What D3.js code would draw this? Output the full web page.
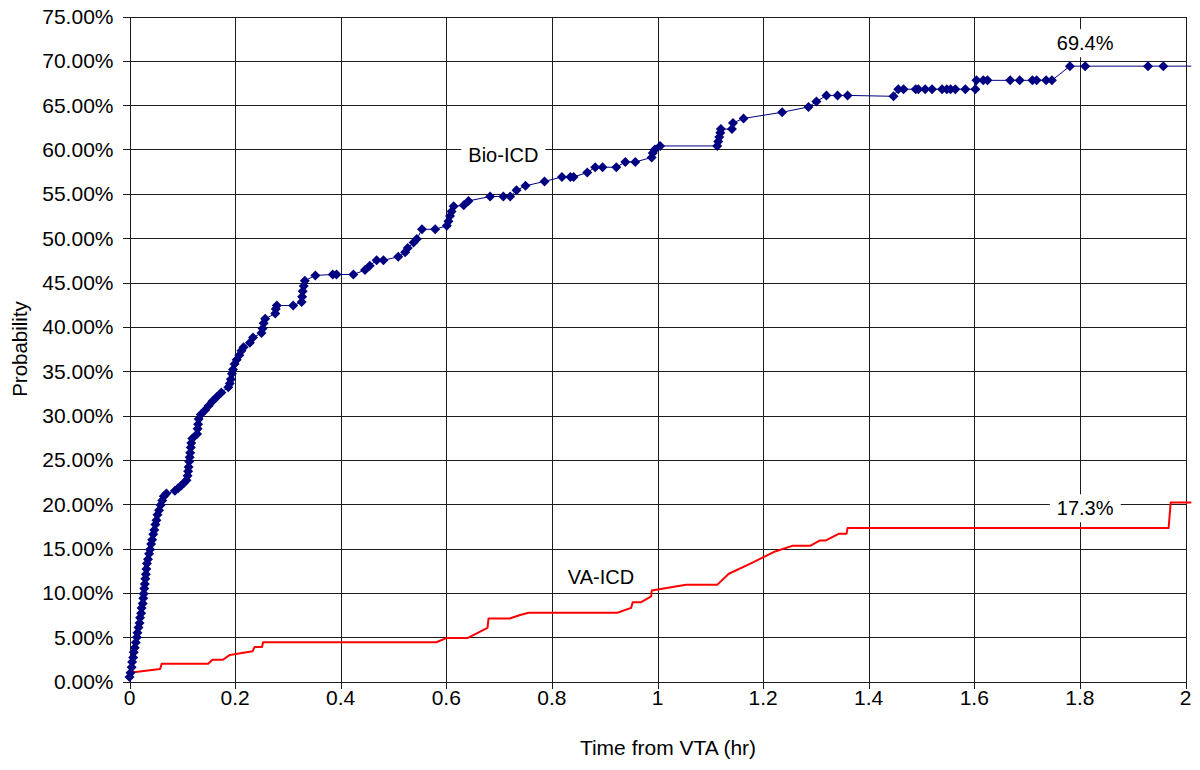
<!DOCTYPE html>
<html>
<head>
<meta charset="utf-8">
<script src="https://cdn.jsdelivr.net/npm/d3@7/dist/d3.min.js"></script>
<style>
  html, body { margin: 0; padding: 0; background: #fff; }
  svg { display: block; font-family: "Liberation Sans", Arial, sans-serif; }
</style>
</head>
<body>
<svg id="chart" width="1200" height="770"></svg>
<script>
// Time (hr) and cumulative probability (%) for the Bio-ICD group
const bioTime = [
  0.000, 0.002, 0.004, 0.005, 0.007, 0.008, 0.010, 0.012, 0.014, 0.015,
  0.017, 0.019, 0.020, 0.022, 0.023, 0.025, 0.026, 0.027, 0.028, 0.029,
  0.030, 0.031, 0.032, 0.033, 0.035, 0.037, 0.039, 0.041, 0.043, 0.045,
  0.047, 0.049, 0.051, 0.053, 0.056, 0.059, 0.062, 0.065, 0.070,
  0.086, 0.092, 0.098, 0.103, 0.108,
  0.110, 0.111, 0.112, 0.113, 0.114, 0.115, 0.116, 0.117, 0.119,
  0.128, 0.129, 0.130, 0.131, 0.135,
  0.143, 0.150, 0.157, 0.165, 0.174, 0.187, 0.190, 0.192, 0.194, 0.196, 0.199,
  0.203, 0.208, 0.212, 0.216, 0.228, 0.234,
  0.250, 0.252, 0.254, 0.257, 0.276, 0.277, 0.279,
  0.310, 0.326, 0.327, 0.328, 0.330, 0.332,
  0.352, 0.385, 0.392, 0.424, 0.446, 0.455, 0.468, 0.481, 0.509, 0.522,
  0.527, 0.538, 0.544, 0.554, 0.579, 0.601, 0.604, 0.607, 0.610, 0.614,
  0.633, 0.642, 0.683, 0.708, 0.721, 0.733, 0.750, 0.786, 0.819, 0.835,
  0.841, 0.867, 0.882, 0.896, 0.922, 0.939, 0.958, 0.989, 0.991, 0.995,
  1.005, 1.113, 1.115, 1.117, 1.119, 1.120, 1.141, 1.143, 1.163, 1.236,
  1.286, 1.301, 1.320, 1.341, 1.360, 1.447, 1.456, 1.466, 1.489, 1.494,
  1.507, 1.520, 1.539, 1.548, 1.555, 1.564, 1.583, 1.602, 1.604, 1.617,
  1.625, 1.668, 1.686, 1.710, 1.718, 1.736, 1.747, 1.781, 1.810, 1.929,
  1.958, 2.011
];
const bioProb = [
  0.5, 1.0, 1.6, 2.2, 2.7, 3.3, 3.8, 4.4, 5.0, 5.5,
  6.1, 6.6, 7.2, 7.7, 8.3, 8.8, 9.4, 9.9, 10.5, 11.0,
  11.6, 12.1, 12.7, 13.3, 13.8, 14.4, 14.9, 15.5, 16.0, 16.6,
  17.1, 17.7, 18.2, 18.8, 19.3, 19.9, 20.4, 20.9, 21.2,
  21.5, 21.8, 22.1, 22.4, 22.7,
  23.2, 23.7, 24.2, 24.8, 25.3, 25.8, 26.4, 26.9, 27.4,
  27.9, 28.5, 29.0, 29.6, 30.1,
  30.6, 31.1, 31.6, 32.1, 32.6, 33.2, 33.6, 34.1, 34.7, 35.2, 35.8,
  36.3, 36.8, 37.3, 37.7, 38.2, 38.8,
  39.3, 39.8, 40.4, 40.9, 41.5, 42.0, 42.4,
  42.4, 42.8, 43.4, 44.0, 44.6, 45.2,
  45.8, 45.9, 45.9, 45.9, 46.4, 46.9, 47.5, 47.5, 47.9, 48.4,
  48.9, 49.5, 49.9, 51.0, 51.0, 51.4, 51.9, 52.5, 53.0, 53.6,
  53.7, 54.2, 54.7, 54.7, 54.7, 55.4, 55.9, 56.4, 56.9, 56.9,
  56.9, 57.4, 58.0, 58.0, 58.0, 58.6, 58.6, 59.1, 59.6, 60.0,
  60.4, 60.4, 60.9, 61.4, 61.9, 62.3, 62.3, 63.0, 63.5, 64.2,
  64.8, 65.4, 66.1, 66.1, 66.1, 66.0, 66.8, 66.8, 66.8, 66.8,
  66.8, 66.8, 66.8, 66.8, 66.8, 66.8, 66.8, 66.8, 67.8, 67.8,
  67.8, 67.8, 67.8, 67.8, 67.8, 67.8, 67.8, 69.4, 69.4, 69.4,
  69.4, 69.4
];

// Time (hr) and cumulative probability (%) for the VA-ICD group
const vaTime = [
  0.000, 0.058, 0.061, 0.149, 0.157, 0.177, 0.190, 0.233, 0.237, 0.251,
  0.253, 0.581, 0.600, 0.640, 0.678, 0.680, 0.720, 0.740, 0.756, 0.924,
  0.950, 0.953, 0.969, 0.988, 0.989, 1.054, 1.113, 1.135, 1.176, 1.195,
  1.220, 1.255, 1.289, 1.307, 1.318, 1.343, 1.358, 1.360, 1.968, 1.972,
  2.011
];
const vaProb = [
  1.0, 1.4, 2.0, 2.0, 2.45, 2.45, 3.0, 3.4, 3.9, 3.9,
  4.43, 4.43, 4.9, 4.9, 6.05, 7.1, 7.1, 7.5, 7.75, 7.75,
  8.3, 8.95, 8.95, 9.6, 10.26, 10.9, 10.9, 12.15, 13.3, 13.85,
  14.6, 15.3, 15.3, 15.9, 15.9, 16.66, 16.66, 17.3, 17.3, 20.2,
  20.2
];

const xTicks = [0, 0.2, 0.4, 0.6, 0.8, 1, 1.2, 1.4, 1.6, 1.8, 2];
const yTicks = [0, 5, 10, 15, 20, 25, 30, 35, 40, 45, 50, 55, 60, 65, 70, 75];

const seriesLabels = [
  { text: "Bio-ICD", t: 0.708, p: 58.6 },
  { text: "VA-ICD",  t: 0.893, p: 11.05 },
  { text: "69.4%",   t: 1.810, p: 71.2 },
  { text: "17.3%",   t: 1.810, p: 18.75 }
];

const svg = d3.select("#chart");
const plot = { left: 129.5, right: 1185.5, top: 16.5, bottom: 681.5 };

const x = d3.scaleLinear().domain([0, 2]).range([plot.left, plot.right]);
const y = d3.scaleLinear().domain([0, 75]).range([plot.bottom, plot.top]);

const gridColor = "#1c1c1c";
const fontSize = 20;
const tickFont = 21;

// Gridlines
const grid = svg.append("g").attr("shape-rendering", "crispEdges");
grid.selectAll("line.h").data(yTicks).join("line")
  .attr("x1", plot.left - 7).attr("x2", plot.right)
  .attr("y1", d => Math.round(y(d)) + 0.5).attr("y2", d => Math.round(y(d)) + 0.5)
  .attr("stroke", gridColor).attr("stroke-width", 1);
grid.selectAll("line.v").data(xTicks).join("line")
  .attr("y1", plot.top).attr("y2", plot.bottom + 7)
  .attr("x1", d => Math.round(x(d)) + 0.5).attr("x2", d => Math.round(x(d)) + 0.5)
  .attr("stroke", gridColor).attr("stroke-width", 1);

// Axis tick labels
svg.append("g").selectAll("text").data(yTicks).join("text")
  .attr("x", plot.left - 16).attr("y", d => y(d))
  .attr("dy", "0.36em").attr("text-anchor", "end")
  .attr("font-size", tickFont).attr("fill", "#000")
  .text(d => d.toFixed(2) + "%");

svg.append("g").selectAll("text").data(xTicks).join("text")
  .attr("x", d => x(d)).attr("y", plot.bottom + 23)
  .attr("text-anchor", "middle")
  .attr("font-size", tickFont).attr("fill", "#000")
  .text(d => String(d));

// Axis titles
svg.append("text")
  .attr("x", 668).attr("y", 755)
  .attr("text-anchor", "middle").attr("font-size", tickFont).attr("fill", "#000")
  .text("Time from VTA (hr)");
svg.append("text")
  .attr("transform", `translate(27, ${(plot.top + plot.bottom) / 2}) rotate(-90)`)
  .attr("text-anchor", "middle").attr("font-size", fontSize + 0.5).attr("fill", "#000")
  .text("Probability");

// VA-ICD curve
const vaData = vaTime.map((t, i) => [t, vaProb[i]]);
const line = d3.line().x(d => x(d[0])).y(d => y(d[1]));
svg.append("path").datum(vaData)
  .attr("d", line).attr("fill", "none")
  .attr("stroke", "#ff0000").attr("stroke-width", 2).attr("stroke-linejoin", "round");

// Bio-ICD curve with diamond markers
const bioData = bioTime.map((t, i) => [t, bioProb[i]]);
svg.append("path").datum(bioData)
  .attr("d", line).attr("fill", "none")
  .attr("stroke", "#000080").attr("stroke-width", 1);

const diamond = d3.symbol().type(d3.symbolSquare).size(50);
svg.append("g").selectAll("path").data(bioData.filter(d => d[0] <= x.domain()[1])).join("path")
  .attr("transform", d => `translate(${x(d[0])},${y(d[1])}) rotate(45)`)
  .attr("d", diamond).attr("fill", "#000080");

// Series labels on white boxes
const labelG = svg.append("g");
seriesLabels.forEach(l => {
  const g = labelG.append("g");
  const txt = g.append("text")
    .attr("x", x(l.t)).attr("y", y(l.p))
    .attr("text-anchor", "middle").attr("font-size", fontSize).attr("fill", "#000")
    .text(l.text);
  const bb = txt.node().getBBox();
  g.insert("rect", "text")
    .attr("x", bb.x - 7).attr("y", bb.y - 3)
    .attr("width", bb.width + 14).attr("height", bb.height + 6)
    .attr("fill", "#fff");
});
</script>
</body>
</html>
